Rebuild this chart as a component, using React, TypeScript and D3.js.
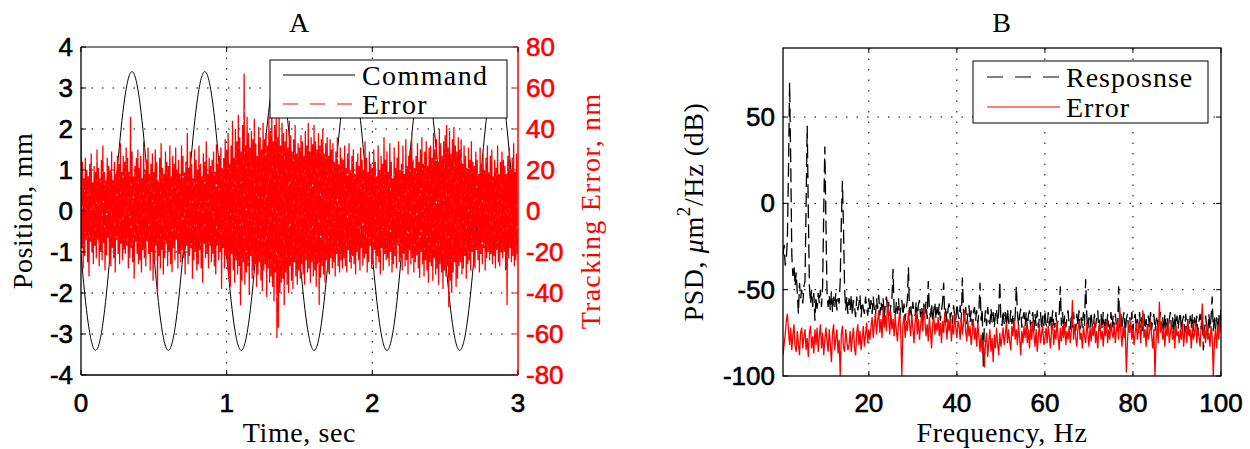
import React from 'react';
import * as d3 from 'd3';

// ---------- Panel A data ----------
const cmdStep = 0.025; // s
const commandMM = [
  -1.05, -2.0, -2.75, -3.23,
  -3.4, -3.23, -2.75, -2.0, -1.05, 0, 1.05, 2.0, 2.75, 3.23, 3.4, 3.23, 2.75, 2.0, 1.05, 0, -1.05, -2.0, -2.75, -3.23,
  -3.4, -3.23, -2.75, -2.0, -1.05, 0, 1.05, 2.0, 2.75, 3.23, 3.4, 3.23, 2.75, 2.0, 1.05, 0, -1.05, -2.0, -2.75, -3.23,
  -3.4, -3.23, -2.75, -2.0, -1.05, 0, 1.05, 2.0, 2.75, 3.23, 3.4, 3.23, 2.75, 2.0, 1.05, 0, -1.05, -2.0, -2.75, -3.23,
  -3.4, -3.23, -2.75, -2.0, -1.05, 0, 1.05, 2.0, 2.75, 3.23, 3.4, 3.23, 2.75, 2.0, 1.05, 0, -1.05, -2.0, -2.75, -3.23,
  -3.4, -3.23, -2.75, -2.0, -1.05, 0, 1.05, 2.0, 2.75, 3.23, 3.4, 3.23, 2.75, 2.0, 1.05, 0, -1.05, -2.0, -2.75, -3.23,
  -3.4, -3.23, -2.75, -2.0, -1.05, 0, 1.05, 2.0, 2.75, 3.23, 3.4, 3.23, 2.75, 2.0, 1.05, 0, -1.05,
];

const errStep = 0.005; // s
const errorNM = [
  40, -18, 24, -28, 16, -22, 26, -14, 20, -25, 17, -32, 23, -15, 28, -20, 14, -26, 22, -17,
  19, -23, 30, -14, 21, -27, 16, -20, 25, -24, 32, -16, 19, -29, 15, -22, 26, -13, 22, -25,
  20, -27, 29, -18, 15, -23, 24, -30, 18, -14, 27, -21, 23, -26, 33, -16, 19, -24, 27, -19,
  24, -21, 31, -17, 26, -28, 19, -23, 46, -18, 29, -25, 17, -33, 22, -15, 26, -21, 30, -26,
  21, -24, 27, -30, 16, -19, 34, -23, 20, -27, 25, -15, 31, -21, 18, -29, 23, -20, 28, -34,
  19, -25, 30, -17, 24, -40, 15, -22, 26, -28, 33, -19, 21, -31, 18, -23, 29, -16, 24, -27,
  22, -20, 32, -26, 17, -30, 27, -18, 23, -24, 31, -14, 20, -28, 25, -21, 18, -25, 32, -19,
  27, -23, 19, -31, 24, -17, 38, -26, 21, -22, 29, -18, 23, -33, 16, -24, 30, -20, 25, -29,
  20, -26, 32, -19, 23, -28, 17, -35, 28, -16, 24, -23, 34, -21, 18, -28, 26, -17, 22, -25,
  25, -21, 29, -27, 19, -31, 33, -17, 23, -24, 27, -20, 31, -38, 21, -18, 26, -28, 35, -22,
  30, -26, 38, -33, 23, -37, 32, -21, 44, -29, 26, -35, 40, -24, 34, -31, 47, -27, 36, -46,
  29, -34, 42, -25, 67, -36, 32, -30, 46, -27, 38, -41, 31, -22, 39, -33, 35, -29, 45, -26,
  33, -37, 27, -31, 41, -25, 36, -34, 30, -39, 43, -29, 35, -26, 38, -42, 32, -28, 46, -35,
  39, -32, 50, -37, 34, -44, 42, -30, 48, -62, 36, -57, 47, -40, 32, -35, 43, -33, 38, -46,
  34, -30, 40, -36, 31, -40, 44, -27, 37, -34, 29, -38, 35, -25, 42, -32, 28, -36, 33, -29,
  31, -33, 37, -26, 34, -31, 27, -36, 39, -24, 32, -30, 43, -28, 29, -35, 36, -25, 33, -32,
  42, -29, 34, -37, 30, -26, 38, -46, 32, -33, 35, -27, 40, -31, 28, -35, 33, -24, 36, -30,
  27, -31, 35, -23, 30, -28, 33, -25, 24, -32, 29, -21, 36, -27, 23, -30, 31, -24, 26, -28,
  25, -23, 32, -27, 21, -30, 28, -19, 33, -25, 20, -28, 27, -22, 30, -26, 18, -31, 24, -20,
  28, -24, 22, -29, 31, -18, 25, -27, 20, -23, 34, -21, 26, -30, 19, -25, 29, -17, 23, -28,
  21, -26, 30, -19, 24, -28, 17, -22, 32, -25, 20, -31, 27, -18, 23, -29, 36, -21, 25, -24,
  29, -23, 19, -27, 33, -20, 24, -30, 16, -26, 31, -22, 21, -28, 26, -17, 34, -25, 20, -23,
  23, -29, 32, -21, 18, -27, 35, -24, 22, -31, 27, -19, 30, -26, 38, -23, 25, -30, 21, -25,
  27, -22, 33, -28, 24, -33, 30, -20, 36, -26, 23, -32, 29, -24, 34, -29, 22, -35, 31, -25,
  32, -27, 26, -34, 38, -23, 30, -31, 35, -28, 24, -36, 40, -26, 33, -30, 27, -38, 34, -29,
  37, -32, 42, -27, 31, -47, 39, -34, 28, -40, 35, -30, 41, -25, 32, -37, 29, -33, 36, -27,
  30, -25, 35, -31, 23, -28, 32, -22, 27, -33, 21, -26, 31, -24, 25, -29, 34, -20, 24, -27,
  22, -28, 29, -19, 25, -24, 18, -30, 31, -21, 23, -26, 28, -18, 20, -29, 26, -23, 32, -20,
  19, -24, 27, -21, 30, -26, 17, -22, 25, -28, 21, -19, 32, -25, 18, -27, 24, -20, 29, -23,
  25, -20, 22, -29, 18, -46, 27, -23, 31, -18, 20, -25, 26, -22, 33, -27, 19, -24, 28, -21,
];

const timeTicks = [0, 1, 2, 3];
const positionTicks = [-4, -3, -2, -1, 0, 1, 2, 3, 4];
const trackingTicks = [-80, -60, -40, -20, 0, 20, 40, 60, 80];

// ---------- Panel B data ----------
const freqStart = 0.5; // Hz
const freqStep = 0.25; // Hz
const responseDB = [
  -30, -24, -36, -33, -20, 20, 70, 25, -30, -42, -36, -48, -40, -52, -64, -46, -55, -50, -58, -48,
  -45, 0, 45, -5, -48, -58, -50, -60, -52, -68, -54, -61, -52, -58, -50, -60, -48, -5, 33, -10,
  -52, -60, -53, -62, -51, -63, -54, -60, -52, -62, -55, -58, -45, -10, 13, -15, -50, -62, -54, -64,
  -55, -62, -53, -65, -56, -60, -66, -54, -62, -58, -53, -66, -57, -61, -64, -54, -60, -65, -55, -63,
  -56, -64, -54, -62, -66, -55, -61, -53, -65, -57, -62, -55, -67, -58, -54, -63, -57, -65, -59, -55,
  -38, -63, -66, -57, -64, -55, -67, -60, -56, -65, -58, -68, -61, -56, -37, -65, -59, -66, -57, -64,
  -65, -57, -67, -59, -56, -66, -60, -68, -58, -64, -57, -67, -45, -61, -66, -58, -69, -62, -57, -67,
  -60, -66, -58, -68, -62, -57, -46, -67, -60, -69, -61, -58, -67, -63, -70, -59, -65, -68, -58, -64,
  -67, -59, -69, -43, -62, -68, -60, -70, -64, -59, -69, -62, -71, -63, -60, -68, -62, -70, -63, -46,
  -68, -61, -95, -69, -62, -71, -60, -68, -70, -61, -69, -63, -72, -64, -61, -70, -63, -45, -68, -71,
  -62, -70, -63, -72, -61, -69, -71, -62, -70, -64, -73, -65, -48, -63, -71, -65, -61, -72, -66, -63,
  -71, -63, -73, -65, -62, -72, -66, -63, -74, -64, -71, -62, -72, -66, -63, -73, -65, -71, -62, -70,
  -72, -63, -71, -64, -73, -62, -70, -72, -63, -74, -66, -64, -48, -71, -63, -73, -65, -72, -66, -62,
  -71, -73, -64, -72, -63, -70, -74, -64, -71, -62, -73, -66, -72, -63, -71, -44, -64, -73, -66, -72,
  -63, -71, -73, -64, -72, -66, -62, -74, -67, -64, -73, -63, -72, -66, -75, -64, -71, -73, -63, -72,
  -65, -73, -64, -71, -74, -48, -72, -64, -73, -66, -63, -75, -67, -64, -73, -66, -72, -63, -74, -67,
  -64, -73, -67, -75, -63, -72, -66, -74, -64, -73, -67, -76, -65, -72, -63, -73, -67, -64, -74, -68,
  -65, -74, -67, -63, -73, -66, -75, -64, -72, -66, -74, -67, -63, -73, -66, -76, -64, -72, -65, -73,
  -67, -63, -74, -68, -65, -75, -64, -73, -67, -76, -65, -72, -64, -74, -66, -73, -65, -75, -68, -64,
  -73, -66, -85, -74, -65, -72, -75, -64, -73, -66, -54, -74, -65, -73, -66, -75, -64, -73, -60,
];
const errorDB = [
  -88, -82, -76, -68, -64, -74, -82, -72, -85, -76, -70, -83, -86, -74, -81, -88, -75, -72, -84, -77,
  -73, -85, -78, -89, -75, -71, -84, -77, -87, -73, -82, -72, -86, -77, -70, -84, -75, -88, -79, -72,
  -80, -86, -73, -82, -92, -75, -70, -85, -78, -73, -87, -79, -100, -76, -71, -84, -86, -73, -80, -85,
  -82, -74, -86, -78, -72, -84, -88, -75, -70, -82, -74, -85, -78, -71, -83, -76, -69, -81, -73, -79,
  -71, -66, -78, -70, -64, -76, -68, -62, -75, -67, -78, -60, -72, -65, -74, -56, -66, -76, -63, -73,
  -67, -77, -64, -74, -80, -69, -63, -76, -100, -70, -65, -78, -68, -74, -62, -70, -77, -65, -72, -81,
  -69, -63, -76, -67, -79, -71, -64, -74, -60, -68, -77, -70, -80, -66, -74, -84, -70, -65, -76, -69,
  -74, -66, -77, -69, -81, -68, -75, -63, -71, -79, -67, -74, -66, -80, -70, -76, -64, -72, -78, -68,
  -71, -79, -66, -76, -69, -62, -74, -80, -68, -77, -71, -82, -75, -67, -79, -72, -83, -69, -77, -86,
  -76, -87, -79, -95, -81, -75, -89, -80, -73, -86, -78, -92, -76, -84, -72, -81, -88, -75, -83, -78,
  -72, -82, -76, -69, -81, -73, -80, -85, -71, -77, -67, -79, -73, -82, -70, -78, -88, -74, -81, -71,
  -78, -70, -81, -73, -84, -71, -79, -68, -76, -83, -73, -86, -77, -70, -81, -75, -71, -82, -78, -72,
  -81, -71, -77, -84, -74, -69, -82, -73, -79, -68, -77, -85, -72, -80, -71, -78, -69, -82, -74, -79,
  -71, -81, -74, -56, -79, -70, -78, -83, -73, -68, -79, -75, -84, -71, -77, -81, -69, -75, -83, -72,
  -80, -71, -77, -68, -81, -74, -84, -72, -69, -79, -74, -83, -71, -77, -67, -81, -73, -79, -69, -75,
  -78, -70, -81, -73, -68, -79, -60, -75, -83, -71, -78, -73, -98, -80, -70, -75, -68, -79, -73, -82,
  -75, -69, -79, -73, -67, -81, -71, -62, -78, -73, -83, -70, -79, -75, -68, -77, -84, -73, -100, -79,
  -71, -81, -57, -75, -69, -79, -73, -83, -71, -77, -68, -81, -75, -70, -79, -73, -84, -71, -77, -74,
  -81, -73, -79, -69, -83, -75, -71, -81, -68, -77, -73, -84, -71, -79, -75, -69, -81, -73, -77, -83,
  -71, -58, -77, -73, -81, -70, -79, -75, -83, -71, -77, -100, -80, -73, -84, -70, -79, -66, -75,
];
const freqTicks = [20, 40, 60, 80, 100];
const psdTicks = [-100, -50, 0, 50];

const SERIF = '"Liberation Serif", "Times New Roman", serif';
const SANS = '"Liberation Sans", Arial, sans-serif';
const RED = '#ff0000';
const GRID_DASH = '1.5,9';

export default function App() {
  // Panel A scales
  const xA = d3.scaleLinear().domain([0, 3]).range([81, 518]);
  const yA = d3.scaleLinear().domain([-4, 4]).range([375, 47]);
  const yA2 = d3.scaleLinear().domain([-80, 80]).range([375, 47]);
  // Panel B scales
  const xB = d3.scaleLinear().domain([0.5, 100]).range([783, 1221]);
  const yB = d3.scaleLinear().domain([-100, 90]).range([376, 48]);

  const cmdLine = d3
    .line<number>()
    .x((_, i) => xA(i * cmdStep))
    .y((d) => yA(d))
    .curve(d3.curveNatural);
  const errLine = d3
    .line<number>()
    .x((_, i) => xA(i * errStep))
    .y((d) => yA2(d));
  const psdLine = d3
    .line<number>()
    .x((_, i) => xB(freqStart + i * freqStep))
    .y((d) => yB(d));

  const [aL, aR] = xA.range();
  const [aB, aT] = yA.range();
  const [bL, bR] = xB.range();
  const [bB, bT] = yB.range();
  const tick = 5;

  const tickFont = { fontFamily: SANS, fontSize: 26 };
  const labelFont = { fontFamily: SERIF, fontSize: 28, letterSpacing: 0.6 };

  return (
    <svg
      width={1250}
      height={449}
      style={{ position: 'absolute', left: 0, top: 0, background: '#fff' }}
    >
      <defs>
        <clipPath id="clipA">
          <rect x={aL} y={aT} width={aR - aL} height={aB - aT} />
        </clipPath>
        <clipPath id="clipB">
          <rect x={bL} y={bT} width={bR - bL} height={bB - bT} />
        </clipPath>
      </defs>

      {/* ================= Panel A ================= */}
      <g stroke="#000" strokeWidth={1} strokeDasharray={GRID_DASH}>
        {timeTicks.slice(1, -1).map((t) => (
          <line key={'ga' + t} x1={xA(t)} x2={xA(t)} y1={aT} y2={aB} />
        ))}
        {positionTicks.slice(1, -1).map((v) => (
          <line key={'gay' + v} x1={aL} x2={aR} y1={yA(v)} y2={yA(v)} />
        ))}
      </g>
      <g clipPath="url(#clipA)">
        <path d={cmdLine(commandMM) || ''} fill="none" stroke="#000" strokeWidth={1} />
        <path
          d={errLine(errorNM) || ''}
          fill="none"
          stroke={RED}
          strokeWidth={1.3}
          strokeDasharray="40,2"
        />
      </g>
      {/* axes box */}
      <line x1={aL} x2={aR} y1={aT} y2={aT} stroke="#000" strokeWidth={1} />
      <line x1={aL} x2={aR} y1={aB} y2={aB} stroke="#000" strokeWidth={1.3} />
      <line x1={aL} x2={aL} y1={aT} y2={aB} stroke="#000" strokeWidth={1.3} />
      <line x1={aR} x2={aR} y1={aT} y2={aB} stroke={RED} strokeWidth={1.5} />
      {/* ticks */}
      <g stroke="#000" strokeWidth={1}>
        {timeTicks.map((t) => (
          <g key={'ta' + t}>
            <line x1={xA(t)} x2={xA(t)} y1={aB} y2={aB - tick} />
            <line x1={xA(t)} x2={xA(t)} y1={aT} y2={aT + tick} />
          </g>
        ))}
        {positionTicks.map((v) => (
          <line key={'tya' + v} x1={aL} x2={aL + tick} y1={yA(v)} y2={yA(v)} />
        ))}
      </g>
      <g stroke={RED} strokeWidth={1}>
        {trackingTicks.map((v) => (
          <line key={'tyr' + v} x1={aR} x2={aR - tick} y1={yA2(v)} y2={yA2(v)} />
        ))}
      </g>
      {/* tick labels */}
      <g {...tickFont} fill="#000" stroke="#000" strokeWidth={0.6}>
        {positionTicks.map((v) => (
          <text key={'lya' + v} x={aL - 8} y={yA(v)} textAnchor="end" dominantBaseline="central">
            {v}
          </text>
        ))}
        {timeTicks.map((t) => (
          <text key={'lxa' + t} x={xA(t)} y={aB + 28} textAnchor="middle" dominantBaseline="central">
            {t}
          </text>
        ))}
      </g>
      <g {...tickFont} fill={RED} stroke={RED} strokeWidth={0.6}>
        {trackingTicks.map((v) => (
          <text key={'lyr' + v} x={aR + 8} y={yA2(v)} textAnchor="start" dominantBaseline="central">
            {v}
          </text>
        ))}
      </g>
      {/* labels */}
      <text x={(aL + aR) / 2} y={22} {...labelFont} textAnchor="middle" dominantBaseline="central">
        A
      </text>
      <text x={(aL + aR) / 2} y={432} {...labelFont} textAnchor="middle" dominantBaseline="central">
        Time, sec
      </text>
      <text
        transform={`translate(22, ${(aT + aB) / 2}) rotate(-90)`}
        {...labelFont}
        textAnchor="middle"
        dominantBaseline="central"
      >
        Position, mm
      </text>
      <text
        transform={`translate(590, ${(aT + aB) / 2}) rotate(-90)`}
        {...labelFont}
        letterSpacing={1.2}
        fill={RED}
        textAnchor="middle"
        dominantBaseline="central"
      >
        Tracking Error, nm
      </text>
      {/* legend A */}
      <g>
        <rect x={270} y={60} width={237} height={58} fill="#fff" stroke="#000" strokeWidth={1} />
        <line x1={283} x2={355} y1={75} y2={75} stroke="#000" strokeWidth={1.2} />
        <line x1={283} x2={355} y1={104} y2={104} stroke={RED} strokeWidth={1.2} strokeDasharray="15,12" />
        <text x={362} y={75} fontFamily={SERIF} fontSize={28} letterSpacing={1.4} dominantBaseline="central">
          Command
        </text>
        <text x={362} y={104} fontFamily={SERIF} fontSize={28} letterSpacing={1.4} dominantBaseline="central">
          Error
        </text>
      </g>

      {/* ================= Panel B ================= */}
      <g stroke="#000" strokeWidth={1} strokeDasharray={GRID_DASH}>
        {freqTicks.slice(0, -1).map((f) => (
          <line key={'gb' + f} x1={xB(f)} x2={xB(f)} y1={bT} y2={bB} />
        ))}
        {psdTicks.slice(1).map((v) => (
          <line key={'gby' + v} x1={bL} x2={bR} y1={yB(v)} y2={yB(v)} />
        ))}
      </g>
      <g clipPath="url(#clipB)">
        <path
          d={psdLine(responseDB) || ''}
          fill="none"
          stroke="#000"
          strokeWidth={1.3}
          strokeDasharray="14,6"
        />
        <path d={psdLine(errorDB) || ''} fill="none" stroke={RED} strokeWidth={1.3} />
      </g>
      <rect x={bL} y={bT} width={bR - bL} height={bB - bT} fill="none" stroke="#000" strokeWidth={1.3} />
      <g stroke="#000" strokeWidth={1}>
        {freqTicks.map((f) => (
          <g key={'tb' + f}>
            <line x1={xB(f)} x2={xB(f)} y1={bB} y2={bB - tick} />
            <line x1={xB(f)} x2={xB(f)} y1={bT} y2={bT + tick} />
          </g>
        ))}
        {psdTicks.map((v) => (
          <g key={'tby' + v}>
            <line x1={bL} x2={bL + tick} y1={yB(v)} y2={yB(v)} />
            <line x1={bR} x2={bR - tick} y1={yB(v)} y2={yB(v)} />
          </g>
        ))}
      </g>
      <g {...tickFont} fill="#000" stroke="#000" strokeWidth={0.6}>
        {psdTicks.map((v) => (
          <text key={'lyb' + v} x={bL - 8} y={yB(v)} textAnchor="end" dominantBaseline="central">
            {v}
          </text>
        ))}
        {freqTicks.map((f) => (
          <text key={'lxb' + f} x={xB(f)} y={bB + 27} textAnchor="middle" dominantBaseline="central">
            {f}
          </text>
        ))}
      </g>
      <text x={(bL + bR) / 2} y={22} {...labelFont} textAnchor="middle" dominantBaseline="central">
        B
      </text>
      <text x={(bL + bR) / 2} y={432} {...labelFont} textAnchor="middle" dominantBaseline="central">
        Frequency, Hz
      </text>
      <text
        transform={`translate(693, ${(bT + bB) / 2}) rotate(-90)`}
        {...labelFont}
        textAnchor="middle"
        dominantBaseline="central"
      >
        PSD, <tspan fontStyle="italic">μ</tspan>m<tspan dy={-10} fontSize={19}>2</tspan>
        <tspan dy={10}>/Hz (dB)</tspan>
      </text>
      {/* legend B */}
      <g>
        <rect x={973} y={61} width={235} height={62} fill="#fff" stroke="#000" strokeWidth={1} />
        <line x1={987} x2={1060} y1={77} y2={77} stroke="#000" strokeWidth={1.2} strokeDasharray="16,12" />
        <line x1={987} x2={1060} y1={107} y2={107} stroke={RED} strokeWidth={1.2} />
        <text x={1066} y={77} fontFamily={SERIF} fontSize={28} letterSpacing={1} dominantBaseline="central">
          Resposnse
        </text>
        <text x={1066} y={107} fontFamily={SERIF} fontSize={28} letterSpacing={1} dominantBaseline="central">
          Error
        </text>
      </g>
    </svg>
  );
}
